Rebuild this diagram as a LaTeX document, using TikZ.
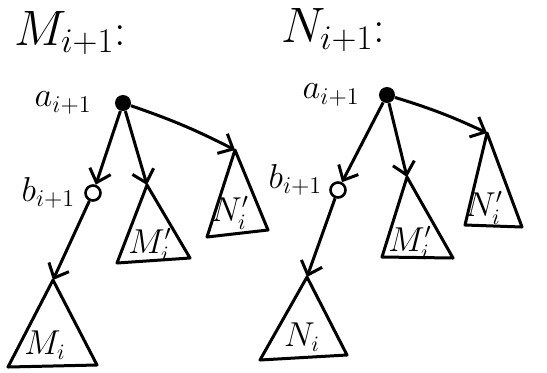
\documentclass[tikz,border=0pt]{standalone}
\usetikzlibrary{arrows.meta,positioning}

\begin{document}
\begin{tikzpicture}[
  x=0.5pt,y=-0.5pt,
  edge/.style={line width=1.5pt,-{Straight Barb[length=6pt,width=11pt]}},
  tree/.style={line width=1.5pt,line join=round},
  full/.style={circle,fill,inner sep=0pt,minimum size=8pt},
  hollow/.style={circle,draw,line width=1.3pt,inner sep=0pt,minimum size=7.5pt},
  title/.style={font=\fontsize{23}{28}\selectfont},
  vlabel/.style={font=\fontsize{18}{22}\selectfont},
  tlabel/.style={font=\fontsize{16}{19}\selectfont}
]
  \useasboundingbox (0,0) rectangle (547,372);

  % M_{i+1}
  \node[title] (mtitle) at (70,33) {$M_{i+1}$:};
  \node[full] (ma) at (123,103) {};
  \node[vlabel,left=8pt of ma] (malab) {$a_{i+1}$};
  \node[hollow] (mb) at (93,193) {};
  \node[vlabel,left=1pt of mb] (mblab) {$b_{i+1}$};

  \coordinate (mmi) at (53,280);
  \coordinate (mmp) at (147,185);
  \coordinate (mnp) at (235,150);
  \draw[tree] (mmi) -- (97,365) -- (8,367) -- cycle;
  \draw[tree] (mmp) -- (190,258) -- (117,263) -- cycle;
  \draw[tree] (mnp) -- (268,230) -- (207,237) -- cycle;
  \node[tlabel] (mmilab) at (45,345) {$M_i$};
  \node[tlabel] (mmplab) at (150,245) {$M_i'$};
  \node[tlabel] (mnplab) at (230,213) {$N_i'$};

  \draw[edge] (ma) -- (mb);
  \draw[edge] (ma) -- (mmp);
  \draw[edge] (ma) to[bend left=4] (mnp);
  \draw[edge] (mb) -- (mmi);

  % N_{i+1}
  \node[title] (ntitle) at (333,30) {$N_{i+1}$:};
  \node[full] (na) at (387,95) {};
  \node[vlabel,left=6pt of na] (nalab) {$a_{i+1}$};
  \node[hollow] (nb) at (338,190) {};
  \node[vlabel,left=0pt of nb,yshift=5pt] (nblab) {$b_{i+1}$};

  \coordinate (nni) at (307,277);
  \coordinate (nmp) at (407,177);
  \coordinate (nnp) at (487,133);
  \draw[tree] (nni) -- (347,355) -- (260,360) -- cycle;
  \draw[tree] (nmp) -- (453,258) -- (382,257) -- cycle;
  \draw[tree] (nnp) -- (522,227) -- (465,225) -- cycle;
  \node[tlabel] (nnilab) at (302,337) {$N_i$};
  \node[tlabel] (nmplab) at (410,243) {$M_i'$};
  \node[tlabel] (nnplab) at (484,208) {$N_i'$};

  \draw[edge] (na) -- (nb);
  \draw[edge] (na) -- (nmp);
  \draw[edge] (na) to[bend left=4] (nnp);
  \draw[edge] (nb) -- (nni);
\end{tikzpicture}
\end{document}
